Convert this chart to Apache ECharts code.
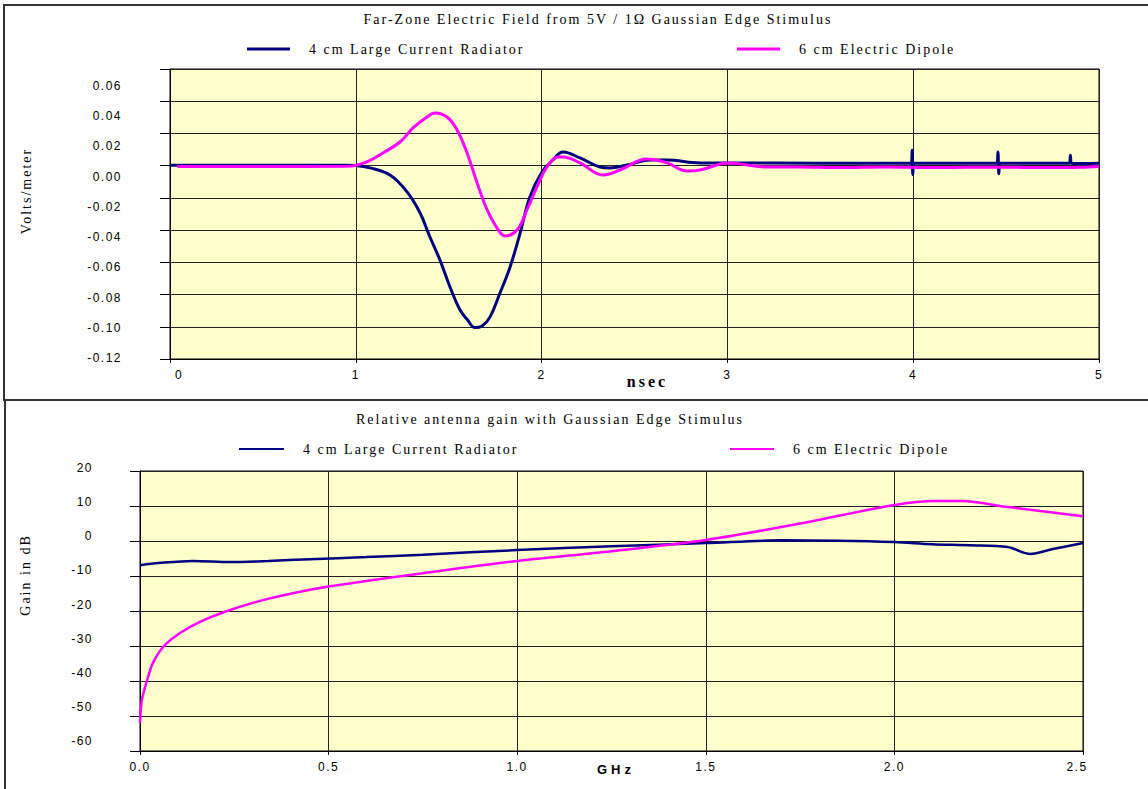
<!DOCTYPE html>
<html><head><meta charset="utf-8">
<script src="https://cdn.jsdelivr.net/npm/echarts@6/dist/echarts.min.js"></script>
<style>
html,body{margin:0;padding:0;background:#fff;}
#c{width:1148px;height:789px;}
#c text[style*="Serif"]{letter-spacing:2px;}
#c text[style*="Sans"]{letter-spacing:1.5px;}
#c text[style*="Serif"][style*="bold"]{letter-spacing:3px;}
#c text[style*="Sans"][style*="bold"]{letter-spacing:4px;}
</style></head><body><div id="c"></div>
<script>
// ---- Data ----
const seriesNames = ['4 cm Large Current Radiator', '6 cm Electric Dipole'];
const titleTop = 'Far-Zone Electric Field from 5V / 1\u03A9 Gaussian Edge Stimulus';
const titleBottom = 'Relative antenna gain with Gaussian Edge Stimulus';

// Top chart: time (ns) vs field (V/m)
const blueTimeNs = [0, 0.5, 0.95, 1.0, 1.076, 1.184, 1.276, 1.346, 1.399, 1.453, 1.507, 1.561, 1.60, 1.642, 1.68, 1.722, 1.776, 1.830, 1.884, 1.937, 2.002, 2.061, 2.115, 2.207, 2.314, 2.368, 2.460, 2.583, 2.675, 2.853, 3.003, 3.5, 3.99, 3.994, 3.998, 4.003, 4.45, 4.456, 4.461, 4.466, 4.84, 4.846, 4.852, 4.91, 5.0];
const blueField = [0.0003, 0.0003, 0.0003, 0.0001, -0.0014, -0.0058, -0.0163, -0.0294, -0.0443, -0.0586, -0.0753, -0.0896, -0.0955, -0.1005, -0.0995, -0.094, -0.079, -0.063, -0.042, -0.0194, -0.0039, 0.0035, 0.0085, 0.0048, -0.0008, -0.0014, 0.0004, 0.0035, 0.0035, 0.0017, 0.0017, 0.0015, 0.0015, 0.0095, -0.0055, 0.0015, 0.0015, 0.0085, -0.005, 0.0015, 0.0015, 0.0065, 0.0015, 0.0013, 0.0015];
const pinkTimeNs = [0.04, 0.5, 0.95, 1.0, 1.06, 1.146, 1.238, 1.308, 1.383, 1.426, 1.491, 1.545, 1.599, 1.653, 1.707, 1.760, 1.803, 1.868, 1.921, 1.975, 2.029, 2.088, 2.115, 2.207, 2.33, 2.422, 2.567, 2.675, 2.783, 2.853, 3.003, 3.213, 3.39, 3.6, 3.85, 4.1, 4.3, 4.5, 4.7, 4.9, 5.0];
const pinkField = [-0.0005, -0.0005, -0.0004, 0.0002, 0.0023, 0.0079, 0.0147, 0.0234, 0.0302, 0.0327, 0.0302, 0.0222, 0.0079, -0.0107, -0.0275, -0.0387, -0.0436, -0.0399, -0.0275, -0.0132, -0.0008, 0.0054, 0.0054, 0.0017, -0.0058, -0.0027, 0.0042, 0.0017, -0.0033, -0.0027, 0.0017, -0.0008, -0.0008, -0.0012, -0.0008, -0.0012, -0.0010, -0.0010, -0.0012, -0.0010, -0.0005];

// Bottom chart: frequency (GHz) vs gain (dB)
const blueFreqGHz = [0, 0.05, 0.14, 0.24, 0.34, 0.45, 0.6, 0.75, 1.0, 1.25, 1.5, 1.7, 1.85, 2.0, 2.1, 2.2, 2.3, 2.36, 2.42, 2.5];
const blueGainDb = [-6.9, -6.3, -5.7, -6.0, -5.7, -5.2, -4.6, -3.9, -2.6, -1.5, -0.6, 0.2, 0.1, -0.3, -0.9, -1.2, -1.7, -3.7, -2.3, -0.6];
const pinkFreqGHz = [0, 0.005, 0.019, 0.034, 0.061, 0.106, 0.159, 0.231, 0.326, 0.424, 0.5, 0.6, 0.75, 1.0, 1.25, 1.5, 1.75, 2.0, 2.11, 2.18, 2.3, 2.5];
const pinkGainDb = [-52, -45.4, -39.7, -34.9, -30.3, -26.3, -23.1, -20.0, -16.9, -14.5, -13.0, -11.4, -9.2, -5.7, -2.9, 0.3, 5.0, 10.3, 11.4, 11.4, 9.7, 7.1];

// Axis scales
const timeAxis = {min: 0, max: 5, step: 1};
const fieldAxis = {min: -0.12, max: 0.06, step: 0.02};
const freqAxis = {min: 0, max: 2.5, step: 0.5};
const gainAxis = {min: -60, max: 20, step: 10};

// ---- Chart ----
const zip = (xs, ys) => xs.map((x, i) => [x, ys[i]]);
const BLUE = '#000080', PINK = '#FF00FF';
const SANS = 'Liberation Sans', SERIF = 'Liberation Serif';
const chart = echarts.init(document.getElementById('c'), null, {renderer: 'svg'});

const tickLbl = {fontFamily: SANS, fontSize: 12, color: '#000'};
function mainX(grid, ax, name, nameStyle, fmt, rich) {
  return {
    gridIndex: grid, type: 'value', min: ax.min, max: ax.max, interval: ax.step,
    name: name, nameLocation: 'middle', nameGap: nameStyle.gap, nameMoveOverlap: false,
    nameTextStyle: nameStyle.style,
    axisLine: {show: true, onZero: false, lineStyle: {color: '#000', width: 1}},
    axisTick: {show: true, length: 4, lineStyle: {color: '#000'}},
    axisLabel: Object.assign({margin: 10, formatter: fmt, rich: rich}, tickLbl),
    splitLine: {show: true, lineStyle: {color: '#222', width: 1}}
  };
}
function mainY(grid, ax, name, nameGap, pad) {
  return {
    gridIndex: grid, type: 'value', min: ax.min, max: ax.max, interval: ax.step,
    name: name, nameLocation: 'middle', nameRotate: 90, nameGap: nameGap, nameMoveOverlap: false,
    nameTextStyle: {fontFamily: SERIF, fontSize: 14, color: '#000', padding: pad},
    axisLine: {show: true, onZero: false, lineStyle: {color: '#000', width: 1}},
    axisTick: {show: true, length: 10, lineStyle: {color: '#000'}},
    axisLabel: {show: false},
    splitLine: {show: true, lineStyle: {color: '#222', width: 1}}
  };
}
function labelY(grid, ax, margin, fmt) {
  return {
    gridIndex: grid, type: 'value', min: ax.min, max: ax.max, interval: ax.step,
    axisLine: {show: false}, axisTick: {show: false}, splitLine: {show: false},
    axisLabel: Object.assign({margin: margin, formatter: fmt}, tickLbl)
  };
}
function hiddenX(grid, ax) {
  return {gridIndex: grid, type: 'value', min: ax.min, max: ax.max, show: false};
}
function legendItem(name, left, top, w, h) {
  return {
    data: [name], left: left, top: top, icon: 'rect', itemWidth: w, itemHeight: h,
    padding: 0, selectedMode: false,
    textStyle: {fontFamily: SERIF, fontSize: 14, color: '#000', padding: [0, 0, 0, 14]}
  };
}
const fix = (d) => (v) => (Math.abs(v) < 1e-9 ? 0 : v).toFixed(d);

const option = {
  animation: false,
  backgroundColor: '#fff',
  color: [BLUE, PINK, BLUE, PINK],
  title: [
    {text: titleTop, left: 598, top: 12, padding: 0, textAlign: 'center',
     textStyle: {fontFamily: SERIF, fontSize: 14, fontWeight: 'normal', color: '#000'}},
    {text: titleBottom, left: 550, top: 412, padding: 0, textAlign: 'center',
     textStyle: {fontFamily: SERIF, fontSize: 14, fontWeight: 'normal', color: '#000'}}
  ],
  legend: [
    legendItem(seriesNames[0], 247, 42, 43, 3),
    legendItem(seriesNames[1], 737, 42, 43, 3),
    legendItem(seriesNames[0], 239, 442, 45, 2),
    legendItem(seriesNames[1], 730, 442, 44, 2)
  ],
  grid: [
    {left: 170, top: 69, right: 49, height: 290, show: true, backgroundColor: '#FFFFCC', borderColor: '#000', borderWidth: 1},
    {left: 170, top: 86, right: 49, height: 272, show: false},
    {left: 140, top: 471, right: 65, height: 280, show: true, backgroundColor: '#FFFFCC', borderColor: '#000', borderWidth: 1},
    {left: 140, top: 468, right: 65, height: 273, show: false}
  ],
  xAxis: [
    mainX(0, timeAxis, 'nsec', {gap: 14, style: {fontFamily: SERIF, fontSize: 16, fontWeight: 'bold', color: '#000', padding: [0, 0, 0, 26]}},
      (v) => v === 0 ? '{z|0}' : String(v),
      {z: {fontFamily: SANS, fontSize: 12, color: '#000', padding: [0, 0, 0, 18]}}),
    hiddenX(1, timeAxis),
    mainX(2, freqAxis, 'GHz', {gap: 12, style: {fontFamily: SANS, fontSize: 13, fontWeight: 'bold', color: '#000', padding: [0, 0, 0, 9]}},
      (v) => v === 2.5 ? '{e|2.5}' : v.toFixed(1),
      {e: {fontFamily: SANS, fontSize: 12, color: '#000', padding: [0, 12, 0, 0]}}),
    hiddenX(3, freqAxis)
  ],
  yAxis: [
    mainY(0, fieldAxis, 'Volts/meter', 137, [0, 0, 0, 46]),
    labelY(1, fieldAxis, 48, fix(2)),
    mainY(2, gainAxis, 'Gain in dB', 108, [0, 0, 0, 72]),
    labelY(3, gainAxis, 47, fix(0))
  ],
  graphic: [
    {type: 'rect', silent: true, shape: {x: 4, y: 5, width: 1200, height: 395}, style: {fill: 'none', stroke: '#333', lineWidth: 2}},
    {type: 'rect', silent: true, shape: {x: 5, y: 400, width: 1200, height: 450}, style: {fill: 'none', stroke: '#333', lineWidth: 2}}
  ],
  series: [
    {name: seriesNames[0], type: 'line', xAxisIndex: 0, yAxisIndex: 0, data: zip(blueTimeNs, blueField),
     showSymbol: false, smooth: 0.4, lineStyle: {color: BLUE, width: 3}, itemStyle: {color: BLUE}},
    {name: seriesNames[1], type: 'line', xAxisIndex: 0, yAxisIndex: 0, data: zip(pinkTimeNs, pinkField),
     showSymbol: false, smooth: 0.4, lineStyle: {color: PINK, width: 3}, itemStyle: {color: PINK}},
    {name: seriesNames[0], type: 'line', xAxisIndex: 2, yAxisIndex: 2, data: zip(blueFreqGHz, blueGainDb),
     showSymbol: false, smooth: 0.3, lineStyle: {color: BLUE, width: 2.5}, itemStyle: {color: BLUE}},
    {name: seriesNames[1], type: 'line', xAxisIndex: 2, yAxisIndex: 2, data: zip(pinkFreqGHz, pinkGainDb),
     showSymbol: false, smooth: 0.3, lineStyle: {color: PINK, width: 2.5}, itemStyle: {color: PINK}}
  ]
};
chart.setOption(option);
</script></body></html>
